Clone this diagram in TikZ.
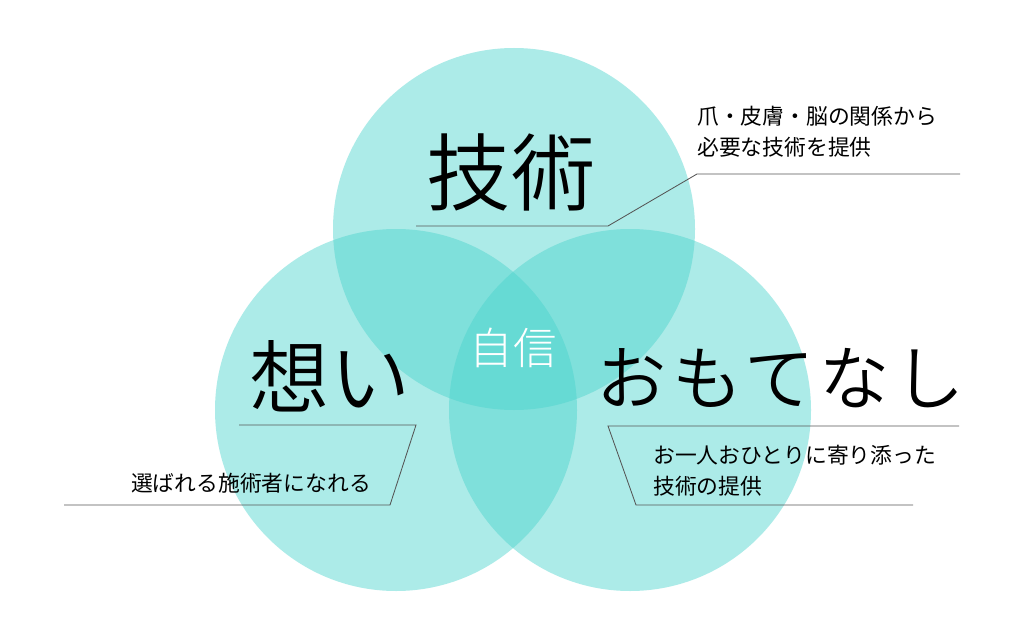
\documentclass[tikz,border=0pt]{standalone}
\usepackage{fontspec}
\setmainfont{Noto Sans CJK JP}
\newfontfamily\lightjp{Noto Sans CJK JP Light}
\newfontfamily\demijp{Noto Sans CJK JP DemiLight}
\usepackage{tikz}
\usetikzlibrary{calc,positioning}
\definecolor{venncyan}{RGB}{73,211,204}
\definecolor{leadgray}{RGB}{85,85,85}

\begin{document}
\begin{tikzpicture}[x=0.025cm,y=0.025cm, circ/.style={fill=venncyan,fill opacity=0.45},lead/.style={draw=leadgray,line width=0.6pt},
                    big/.style={inner sep=0pt,font=\demijp\fontsize{60}{66}\selectfont},small/.style={inner sep=0pt,align=left,font=\fontsize{15.5}{22}\selectfont}]
                      \useasboundingbox[fill=white] (0,0) rectangle (1024,640);
                      \fill[circ] (514,411) circle[radius=181];
                      \fill[circ] (396,230) circle[radius=181];
                      \fill[circ] (630,230) circle[radius=181];

                      \node[big] (gijutsu) at (511,468) {技術};
                      \node[big,font=\demijp\fontsize{57}{62}\selectfont] (omoi) at (330,264) {想い};
                      \node[big,font=\demijp\fontsize{50}{55}\selectfont\addfontfeature{LetterSpace=7}] (omotenashi) at (781,262) {おもてなし};
                      \node[inner sep=0pt,text=white,font=\lightjp\fontsize{31}{34}\selectfont] (jishin) at (513,292) {自信};

                      \node[small,anchor=west] (gijutsutxt) at (697,508) {爪・皮膚・脳の関係から\\必要な技術を提供};
                      \node[small] (omoitxt) at (251,157) {選ばれる施術者になれる};
                      \node[small,anchor=west] (omotetxt) at (653,169) {お一人おひとりに寄り添った\\技術の提供};

                      \coordinate (t1) at (416,414); \coordinate (t2) at (608,414);
                      \coordinate (t3) at (697,466); \coordinate (t4) at (960,466);
                      \coordinate (l1) at (239,215); \coordinate (l2) at (416,215);
                      \coordinate (l3) at (390,135); \coordinate (l4) at (64,135);
                      \coordinate (r1) at (959,214); \coordinate (r2) at (608,214);
                      \coordinate (r3) at (636,135); \coordinate (r4) at (913,135);
                      \draw[lead] (t1) -- (t2) -- (t3) -- (t4);
                      \draw[lead] (l1) -- (l2) -- (l3) -- (l4);
                      \draw[lead] (r1) -- (r2) -- (r3) -- (r4);
                    \end{tikzpicture}
\end{document}
